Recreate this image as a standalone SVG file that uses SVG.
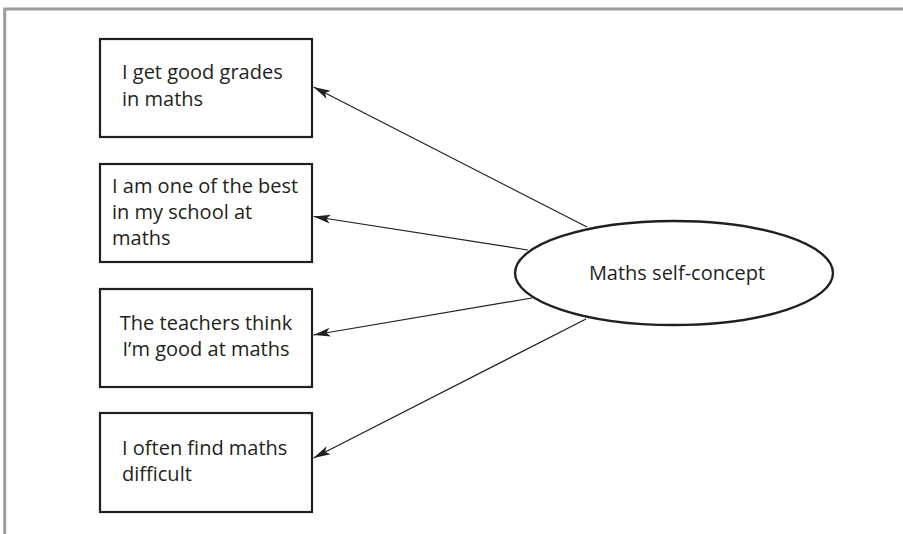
<svg xmlns="http://www.w3.org/2000/svg" width="903" height="534" viewBox="0 0 903 534">
<defs>
<style>
.frame{stroke:#9d9d9d;stroke-width:3;fill:none}
.box{fill:#fff;stroke:#231f20;stroke-width:2.2}
.ell{fill:#fff;stroke:#231f20;stroke-width:2.4}
.t{font-family:"Open Sans","Noto Sans","Liberation Sans",sans-serif;font-size:20px;fill:#231f20}
.c{text-anchor:middle}
.edge{stroke:#231f20;stroke-width:1.2;fill:none;marker-end:url(#ah)}
</style>
<marker id="ah" viewBox="0 0 17 10" refX="17" refY="5" markerWidth="17" markerHeight="10" markerUnits="userSpaceOnUse" orient="auto">
<path d="M0,0.5 L17,5 L0,9.5 L4,5 z" fill="#231f20"/>
</marker>
</defs>
<rect width="903" height="534" fill="#fff"/>
<g id="frame">
<path class="frame" d="M903,9 H4.7 V534"/>
</g>
<g id="connectors">
<line class="edge" x1="587" y1="227" x2="313.5" y2="87"/>
<line class="edge" x1="528" y1="250" x2="313.5" y2="216.5"/>
<line class="edge" x1="532" y1="298" x2="313.5" y2="335"/>
<line class="edge" x1="586" y1="319" x2="313.5" y2="458"/>
</g>
<g id="node1">
<rect class="box" x="100" y="39" width="212" height="98"/>
<text class="t" x="122" y="79">I get good grades</text>
<text class="t" x="122" y="106">in maths</text>
</g>
<g id="node2">
<rect class="box" x="100" y="164" width="212" height="98"/>
<text class="t" x="112" y="193">I am one of the best</text>
<text class="t" x="112" y="219">in my school at</text>
<text class="t" x="112" y="245">maths</text>
</g>
<g id="node3">
<rect class="box" x="100" y="289" width="212" height="98"/>
<text class="t c" x="206" y="330">The teachers think</text>
<text class="t c" x="206" y="356">I’m good at maths</text>
</g>
<g id="node4">
<rect class="box" x="100" y="413" width="212" height="99"/>
<text class="t" x="122" y="455">I often find maths</text>
<text class="t" x="122" y="481">difficult</text>
</g>
<g id="latent">
<ellipse class="ell" cx="674" cy="273" rx="159" ry="52"/>
<text class="t c" x="677" y="280">Maths self-concept</text>
</g>
</svg>
